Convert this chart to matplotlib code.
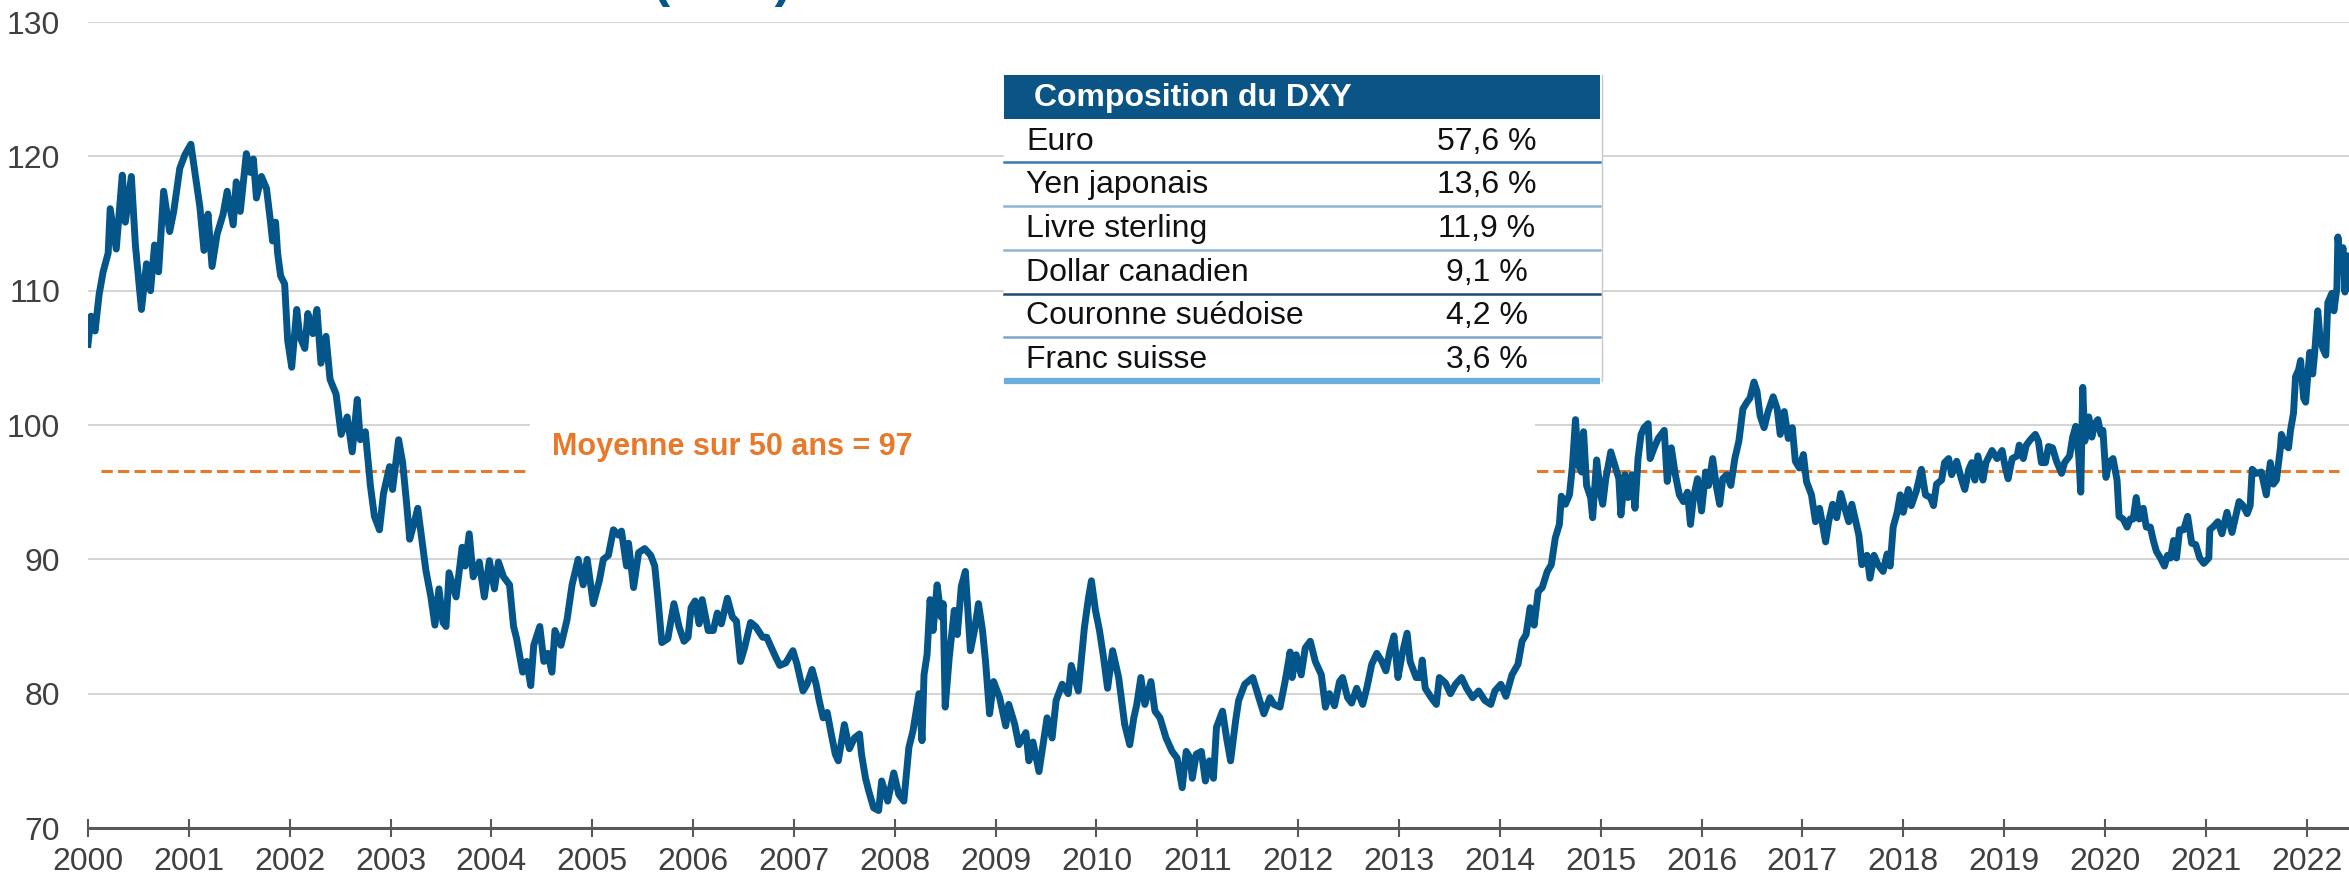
import matplotlib.pyplot as plt
from matplotlib import font_manager
from matplotlib.patches import Rectangle

plt.rcParams['font.family'] = ['Liberation Sans', 'DejaVu Sans']

# DXY (decimal year, index level)
years = [
    2000.00, 2000.03, 2000.07, 2000.11, 2000.15, 2000.20, 2000.22, 2000.28, 2000.34, 2000.37,
    2000.43, 2000.47, 2000.53, 2000.58, 2000.62, 2000.66, 2000.70, 2000.75, 2000.81, 2000.85,
    2000.91, 2000.96, 2001.02, 2001.06, 2001.11, 2001.15, 2001.19, 2001.23, 2001.28, 2001.34,
    2001.38, 2001.44, 2001.47, 2001.51, 2001.57, 2001.61, 2001.64, 2001.67, 2001.72, 2001.77,
    2001.81, 2001.83, 2001.86, 2001.88, 2001.91, 2001.95, 2001.98, 2002.02, 2002.07, 2002.10,
    2002.15, 2002.18, 2002.23, 2002.27, 2002.31, 2002.36, 2002.40, 2002.46, 2002.51, 2002.57,
    2002.62, 2002.67, 2002.70, 2002.75, 2002.80, 2002.84, 2002.89, 2002.93, 2002.99, 2003.02,
    2003.08, 2003.12, 2003.16, 2003.19, 2003.23, 2003.27, 2003.31, 2003.35, 2003.40, 2003.44,
    2003.48, 2003.52, 2003.55, 2003.58, 2003.65, 2003.71, 2003.74, 2003.78, 2003.82, 2003.88,
    2003.93, 2003.98, 2004.03, 2004.07, 2004.12, 2004.18, 2004.22, 2004.25, 2004.31, 2004.35,
    2004.39, 2004.42, 2004.48, 2004.52, 2004.56, 2004.60, 2004.63, 2004.69, 2004.75, 2004.80,
    2004.86, 2004.91, 2004.95, 2005.01, 2005.07, 2005.11, 2005.16, 2005.21, 2005.26, 2005.29,
    2005.34, 2005.36, 2005.41, 2005.46, 2005.52, 2005.58, 2005.62, 2005.65, 2005.69, 2005.75,
    2005.81, 2005.86,
    2005.91, 2005.95, 2005.98, 2006.02, 2006.06, 2006.09, 2006.15, 2006.20, 2006.24, 2006.28,
    2006.34, 2006.39, 2006.43, 2006.47, 2006.51, 2006.57, 2006.62, 2006.69, 2006.73, 2006.79,
    2006.82, 2006.86, 2006.92, 2006.99, 2007.03, 2007.09, 2007.13, 2007.18, 2007.22, 2007.25,
    2007.29, 2007.33, 2007.37, 2007.41, 2007.44, 2007.50, 2007.55, 2007.60, 2007.65, 2007.67,
    2007.71, 2007.74, 2007.79, 2007.84, 2007.87, 2007.93, 2007.99, 2008.04, 2008.09, 2008.14,
    2008.18, 2008.24, 2008.27, 2008.29, 2008.32, 2008.35, 2008.38, 2008.42, 2008.46, 2008.48,
    2008.50, 2008.54, 2008.59, 2008.62, 2008.66, 2008.70, 2008.75, 2008.79, 2008.83, 2008.87,
    2008.90, 2008.94, 2008.98, 2009.04, 2009.10, 2009.13, 2009.19, 2009.23, 2009.30, 2009.33,
    2009.37, 2009.43, 2009.47, 2009.51, 2009.56, 2009.60, 2009.66, 2009.72, 2009.75, 2009.82,
    2009.88, 2009.92, 2009.95, 2009.99, 2010.03, 2010.07, 2010.11, 2010.16, 2010.22, 2010.28,
    2010.33, 2010.37, 2010.40, 2010.44, 2010.48, 2010.54, 2010.58, 2010.63, 2010.69, 2010.75,
    2010.80, 2010.85, 2010.89, 2010.93, 2010.95, 2010.99, 2011.04, 2011.08, 2011.12, 2011.16,
    2011.19, 2011.25, 2011.29, 2011.33, 2011.38, 2011.41, 2011.47, 2011.55, 2011.61, 2011.66,
    2011.72, 2011.76, 2011.82, 2011.87, 2011.92,
    2011.94, 2011.98, 2012.03, 2012.07, 2012.12, 2012.17, 2012.23, 2012.27, 2012.31, 2012.36,
    2012.41, 2012.44, 2012.49, 2012.53, 2012.58, 2012.64, 2012.68, 2012.73, 2012.78, 2012.83,
    2012.87, 2012.91, 2012.95, 2012.99, 2013.03, 2013.08, 2013.11, 2013.17, 2013.21, 2013.23,
    2013.26, 2013.32, 2013.37, 2013.40, 2013.46, 2013.51, 2013.56, 2013.62, 2013.67, 2013.73,
    2013.79, 2013.85, 2013.91, 2013.95, 2014.01, 2014.06, 2014.12, 2014.18, 2014.22, 2014.26,
    2014.30, 2014.34, 2014.38, 2014.42, 2014.47, 2014.51, 2014.55, 2014.59, 2014.61, 2014.65,
    2014.69, 2014.72, 2014.75, 2014.78, 2014.81, 2014.83, 2014.86, 2014.90, 2014.92, 2014.96,
    2015.00, 2015.02, 2015.05, 2015.10, 2015.14, 2015.18, 2015.20, 2015.24, 2015.27, 2015.31,
    2015.34, 2015.37, 2015.40, 2015.43, 2015.47, 2015.49, 2015.53, 2015.57, 2015.63, 2015.66,
    2015.70, 2015.74, 2015.78, 2015.82, 2015.86, 2015.89, 2015.92, 2015.96, 2016.00, 2016.04,
    2016.07, 2016.11, 2016.15, 2016.18, 2016.21, 2016.25, 2016.29, 2016.33, 2016.37, 2016.41,
    2016.45, 2016.48, 2016.52, 2016.55, 2016.58, 2016.62, 2016.66, 2016.71, 2016.75, 2016.78,
    2016.82, 2016.86, 2016.90, 2016.93, 2016.97, 2017.01, 2017.04, 2017.09, 2017.13, 2017.17,
    2017.20, 2017.23, 2017.26, 2017.30, 2017.34, 2017.38, 2017.42, 2017.46, 2017.49, 2017.53,
    2017.56, 2017.59, 2017.64, 2017.67, 2017.71, 2017.75,
    2017.80, 2017.84, 2017.87, 2017.90, 2017.94, 2017.97, 2018.00, 2018.05, 2018.08, 2018.13,
    2018.18, 2018.22, 2018.27, 2018.30, 2018.33, 2018.38, 2018.41, 2018.45, 2018.48, 2018.53,
    2018.58, 2018.61, 2018.65, 2018.68, 2018.71, 2018.74, 2018.79, 2018.82, 2018.88, 2018.93,
    2018.98, 2019.01, 2019.04, 2019.08, 2019.13, 2019.15, 2019.19, 2019.22, 2019.26, 2019.31,
    2019.34, 2019.37, 2019.41, 2019.44, 2019.48, 2019.52, 2019.57, 2019.60, 2019.65, 2019.68,
    2019.71, 2019.74, 2019.76, 2019.78, 2019.80, 2019.84, 2019.87, 2019.90, 2019.93, 2019.96,
    2019.98, 2020.01, 2020.04, 2020.08, 2020.12, 2020.14, 2020.18, 2020.22, 2020.25, 2020.28,
    2020.31, 2020.34, 2020.38, 2020.41, 2020.45, 2020.48, 2020.51, 2020.55, 2020.59, 2020.62,
    2020.65, 2020.68, 2020.71, 2020.74, 2020.78, 2020.82, 2020.86, 2020.90, 2020.94, 2020.98,
    2021.03, 2021.04, 2021.07, 2021.12, 2021.16, 2021.21, 2021.26, 2021.29, 2021.33, 2021.37,
    2021.41, 2021.44, 2021.46, 2021.50, 2021.55, 2021.60, 2021.64, 2021.67, 2021.70, 2021.74,
    2021.75, 2021.79, 2021.82, 2021.84, 2021.87, 2021.89, 2021.92, 2021.94, 2021.97, 2021.99,
    2022.03, 2022.06, 2022.08, 2022.11, 2022.13, 2022.16, 2022.19, 2022.21, 2022.25, 2022.27,
    2022.30, 2022.31, 2022.34, 2022.36, 2022.38, 2022.40, 2022.41,
]
dxy = [
    106.0, 108.1, 107.0, 109.7, 111.4, 112.8, 116.1, 113.1, 118.6, 115.1,
    118.5, 113.4, 108.6, 112.0, 110.0, 113.4, 111.4, 117.4, 114.4, 115.9,
    119.1, 120.1, 120.9, 118.8, 116.2, 113.0, 115.7, 111.8, 114.2, 115.7,
    117.4, 114.9, 118.1, 115.9, 120.2, 118.8, 119.8, 116.9, 118.5, 117.6,
    115.1, 113.7, 115.1, 112.8, 111.1, 110.5, 106.3, 104.3, 108.6, 106.6,
    105.7, 108.3, 106.8, 108.6, 104.6, 106.6, 103.4, 102.3, 99.3, 100.6,
    98.0, 101.9, 98.9, 99.5, 95.5, 93.2, 92.2, 94.9, 96.9, 95.2,
    98.9, 97.2, 94.1, 91.5, 92.6, 93.8, 91.5, 89.2, 87.2, 85.1,
    87.8, 85.3, 85.0, 89.0, 87.2, 90.9, 89.5, 91.9, 88.7, 89.8,
    87.2, 89.9, 87.8, 89.8, 88.7, 88.1, 85.0, 84.1, 81.6, 82.4,
    80.6, 83.6, 85.0, 82.4, 83.0, 81.6, 84.7, 83.6, 85.5, 88.1,
    90.0, 88.1, 90.0, 86.7, 88.4, 90.0, 90.3, 92.2, 91.8, 92.1,
    89.5, 91.2, 87.9, 90.5, 90.8, 90.3, 89.5, 87.2, 83.8, 84.1,
    86.7, 85.0,
    83.9, 84.2, 86.4, 86.9, 85.2, 87.0, 84.7, 84.7, 86.0, 85.2,
    87.1, 85.7, 85.4, 82.4, 83.4, 85.3, 85.0, 84.2, 84.2, 83.2,
    82.7, 82.1, 82.3, 83.2, 82.2, 80.2, 80.7, 81.8, 80.7, 79.5,
    78.2, 78.6, 77.0, 75.5, 75.0, 77.7, 75.9, 76.7, 77.0, 75.5,
    73.7, 72.8, 71.5, 71.3, 73.5, 72.0, 74.1, 72.5, 72.0, 76.0,
    77.2, 80.0, 76.5, 81.4, 82.9, 87.0, 84.7, 88.1, 85.7, 86.7,
    79.0, 82.7, 86.2, 84.4, 88.0, 89.1, 83.2, 84.7, 86.7, 84.7,
    82.4, 78.5, 80.9, 79.7, 77.6, 79.2, 77.7, 76.2, 77.1, 75.0,
    76.4, 74.2, 76.2, 78.2, 76.7, 79.5, 80.7, 80.0, 82.1, 80.2,
    84.9, 87.1, 88.4, 86.2, 84.7, 82.7, 80.4, 83.2, 81.2, 77.7,
    76.2, 78.2, 79.2, 81.2, 79.2, 80.9, 78.7, 78.2, 76.7, 75.7,
    75.2, 73.0, 75.7, 75.2, 73.7, 75.5, 75.7, 73.5, 75.0, 73.7,
    77.5, 78.7, 76.7, 75.0, 78.0, 79.5, 80.7, 81.2, 79.7, 78.5,
    79.7, 79.2, 79.0, 80.9, 83.1,
    81.2, 82.9, 81.4, 83.4, 83.9, 82.4, 81.4, 79.0, 80.0, 79.1,
    80.9, 81.2, 79.7, 79.3, 80.4, 79.2, 80.4, 82.2, 83.0, 82.4,
    81.7, 83.2, 84.3, 81.2, 82.9, 84.5, 82.4, 81.2, 81.2, 82.5,
    80.4, 79.7, 79.2, 81.2, 80.8, 80.0, 80.7, 81.2, 80.4, 79.7,
    80.2, 79.5, 79.2, 80.2, 80.7, 79.8, 81.4, 82.2, 83.9, 84.4,
    86.4, 85.1, 87.6, 87.9, 89.1, 89.6, 91.6, 92.6, 94.7, 94.1,
    94.8, 97.0, 100.4, 97.0, 96.5, 99.5, 95.5, 94.6, 93.1, 97.4,
    94.8, 94.1, 96.0, 98.0, 97.0, 96.0, 93.3, 96.3, 94.6, 96.3,
    93.8, 97.5, 99.3, 99.8, 100.1, 97.5, 98.3, 99.0, 99.6, 95.8,
    98.3, 96.3, 94.8, 94.3, 95.0, 92.6, 94.6, 96.0, 93.6, 96.5,
    95.5, 97.5, 95.3, 94.1, 96.0, 96.3, 95.5, 97.5, 98.8, 101.2,
    101.7, 102.0, 103.2, 102.5, 100.7, 99.8, 101.0, 102.1, 101.2, 99.3,
    101.0, 99.0, 99.8, 97.3, 96.8, 97.8, 95.8, 94.8, 92.8, 93.8,
    92.6, 91.3, 92.8, 94.1, 93.1, 94.9, 93.8, 92.8, 94.1, 92.8,
    91.8, 89.6, 90.3, 88.6, 90.3, 89.6,
    89.1, 90.4, 89.5, 92.4, 93.5, 94.8, 93.5, 95.2, 94.0, 95.1,
    96.7, 94.8, 94.6, 94.0, 95.6, 95.9, 97.2, 97.5, 96.3, 97.3,
    95.9, 95.2, 96.7, 97.2, 95.9, 97.7, 95.9, 97.2, 98.1, 97.5,
    98.1, 96.9, 96.0, 97.5, 97.7, 98.5, 97.5, 98.5, 98.9, 99.3,
    98.8, 97.2, 97.2, 98.4, 98.3, 97.3, 96.4, 97.2, 97.7, 99.1,
    99.9, 97.7, 95.0, 102.8, 98.8, 100.6, 99.1, 100.1, 100.4, 99.3,
    99.6, 96.1, 97.2, 97.5, 95.9, 93.2, 93.0, 92.4, 93.0, 93.0,
    94.6, 93.0, 93.8, 92.4, 92.4, 91.4, 90.6, 90.1, 89.5, 90.3,
    90.1, 91.4, 90.1, 92.2, 92.2, 93.2, 91.2, 91.1, 90.1, 89.7,
    90.1, 92.2, 92.4, 92.8, 91.9, 93.5, 92.0, 93.0, 94.3, 94.0,
    93.4, 94.0, 96.7, 96.4, 96.5, 94.8, 97.2, 95.6, 95.9, 98.3,
    99.3, 98.5, 98.3, 99.6, 100.9, 103.6, 104.1, 104.8, 102.0, 101.7,
    105.4, 103.8, 105.4, 108.5, 106.7, 105.7, 105.2, 109.1, 109.8, 108.5,
    110.2, 114.0, 111.5, 113.2, 109.9, 112.6, 110.2,
]

year_ticks = list(range(2000, 2023))
value_ticks = [70, 80, 90, 100, 110, 120, 130]
mean_level = 96.6
mean_label = "Moyenne sur 50 ans = 97"

table_title = "Composition du DXY"
currencies = ["Euro", "Yen japonais", "Livre sterling", "Dollar canadien",
              "Couronne suédoise", "Franc suisse"]
weights = ["57,6 %", "13,6 %", "11,9 %", "9,1 %", "4,2 %", "3,6 %"]

blue = '#04568A'
orange = '#E8782A'
grey_txt = '#404040'

# the axis labels in the source use a narrow face
try:
    font_manager.findfont('Liberation Sans Narrow', fallback_to_default=False)
    tick_family, tick_size = 'Liberation Sans Narrow', 27
except ValueError:
    tick_family, tick_size = 'Liberation Sans', 23

W, H = 2349, 882
fig = plt.figure(figsize=(W / 100, H / 100), dpi=100)
ax = fig.add_axes([88 / W, 1 - 828 / H, 1 - 88 / W, (828 - 22) / H])

ax.plot([2000.13, 2022.32], [mean_level, mean_level], color=orange, lw=2.2,
        dashes=(3.7, 1.7), zorder=2)
ax.plot(years, dxy, color=blue, lw=5, solid_joinstyle='round', zorder=3)

ax.set_xlim(2000, 2022.42)
ax.set_ylim(70, 130)
ax.set_xticks(year_ticks, labels=[str(y) for y in year_ticks],
              fontfamily=tick_family, fontsize=tick_size)
ax.set_yticks(value_ticks, labels=[str(v) for v in value_ticks],
              fontfamily=tick_family, fontsize=tick_size)
ax.yaxis.grid(True, color='#C9C9C9', lw=1.1)
ax.set_axisbelow(True)
for s in ['top', 'right', 'left']:
    ax.spines[s].set_visible(False)
ax.spines['bottom'].set_color('#595959')
ax.spines['bottom'].set_linewidth(2.2)
ax.tick_params(axis='y', length=0, pad=20, labelcolor=grey_txt)
ax.tick_params(axis='x', direction='inout', length=13, width=1.5, color='#595959',
               pad=7, labelcolor=grey_txt)

# overlay in pixel coordinates for the table and the label box
ov = fig.add_axes([0, 0, 1, 1])
ov.set_xlim(0, W)
ov.set_ylim(H, 0)
ov.axis('off')

ov.add_patch(Rectangle((530, 405), 1005, 87, fc='white', ec='none'))
ov.text(552, 447, mean_label, color=orange, fontsize=22, weight='bold',
        ha='left', va='center')

left, right, top, rh = 1004, 1600, 75, 43.7
ov.add_patch(Rectangle((left, top), right - left + 2, 7 * rh, fc='white', ec='none'))
ov.add_patch(Rectangle((left, top), right - left, rh, fc='#0A5586', ec='none'))
ov.text(1034, top + rh / 2 + 1, table_title, color='white', weight='bold',
        fontsize=23, va='center', ha='left')
sep_colors = ['#3B78B0', '#8FB4D6', '#8FB4D6', '#1C4A78', '#7BA5CC']
for i, (cur, w) in enumerate(zip(currencies, weights)):
    yc = top + rh * (i + 1.5) + 1
    ov.text(1026, yc, cur, fontsize=23, color='#111111', ha='left', va='center')
    ov.text(1487, yc, w, fontsize=23, color='#111111', ha='center', va='center')
    yl = top + rh * (i + 2)
    if i < len(currencies) - 1:
        ov.plot([left, right], [yl, yl], color=sep_colors[i], lw=1.8)
    else:
        ov.plot([left, right], [yl, yl], color='#6AAEE0', lw=4.5,
                solid_capstyle='butt')
ov.plot([right + 2, right + 2], [top, top + 7 * rh], color='#C8C8C8', lw=1)

# title cut off by the top edge in the source
fig.text(792 / W, 1 + 4 / H, "(DXY)", ha='right', va='baseline', fontsize=37,
         weight='bold', color=blue)

fig.savefig('out.png', dpi=100)
